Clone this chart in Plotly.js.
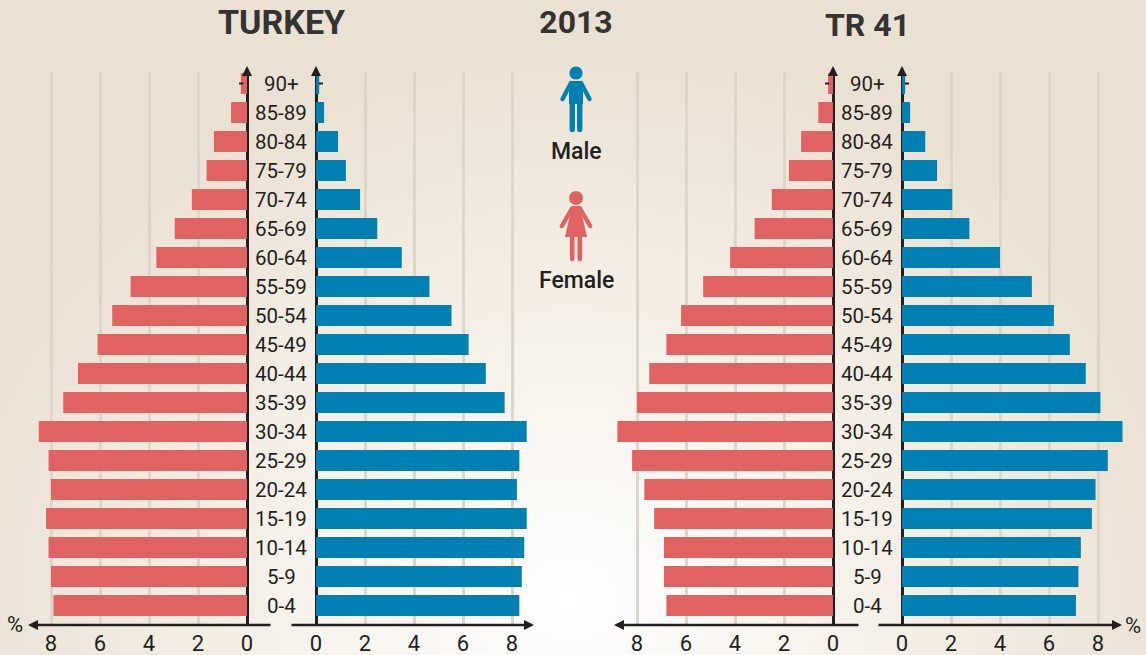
<!DOCTYPE html>
<html>
<head>
<meta charset="utf-8">
<script src="https://cdn.plot.ly/plotly-3.0.1.min.js"></script>
<style>
html,body{margin:0;padding:0;width:1146px;height:655px;overflow:hidden;
background:radial-gradient(ellipse 640px 560px at 570px 600px,#ffffff 0%,#f6f1e9 45%,#ebe1d2 100%);}
#chart{width:1146px;height:655px;}
</style>
</head>
<body>
<div id="chart"></div>
<script>
const ageGroups = ['0-4','5-9','10-14','15-19','20-24','25-29','30-34','35-39','40-44','45-49','50-54','55-59','60-64','65-69','70-74','75-79','80-84','85-89','90+'];
const turkeyFemale = [7.9,8.0,8.1,8.2,8.0,8.1,8.5,7.5,6.9,6.1,5.5,4.75,3.7,2.95,2.25,1.65,1.35,0.65,0.25];
const turkeyMale   = [8.3,8.4,8.5,8.6,8.2,8.3,8.6,7.7,6.93,6.23,5.53,4.63,3.5,2.5,1.8,1.22,0.9,0.33,0.13];
const tr41Female   = [6.8,6.9,6.9,7.3,7.7,8.2,8.8,8.0,7.5,6.8,6.2,5.3,4.2,3.2,2.5,1.8,1.3,0.6,0.2];
const tr41Male     = [7.1,7.2,7.3,7.75,7.9,8.4,9.0,8.1,7.5,6.85,6.2,5.3,4.0,2.75,2.05,1.43,0.95,0.33,0.13];
const tickValues = [0,2,4,6,8];
const oldestGroup = ['90+'];
const dashFemale = [0.24];
const dashMale = [0.2];

const W = 1146, H = 655, UNIT = 24.5, SPAN = 9.2;
const RED = '#E06261', BLUE = '#0080B3', INK = '#231F20', GRID = '#DDD5C7';
const FONT = 'Roboto, "Open Sans", sans-serif';
const px = x => x / W, py = y => 1 - y / H;

const panels = [
  {values: turkeyFemale, color: RED,  zero: 247, dir: -1, dash: dashFemale},
  {values: turkeyMale,   color: BLUE, zero: 316, dir:  1, dash: dashMale},
  {values: tr41Female,   color: RED,  zero: 833, dir: -1, dash: dashFemale},
  {values: tr41Male,     color: BLUE, zero: 902, dir:  1, dash: dashMale}
];

const traces = [];
const layout = {
  width: W, height: H,
  margin: {l:0, r:0, t:0, b:0},
  paper_bgcolor: 'rgba(0,0,0,0)',
  plot_bgcolor: 'rgba(0,0,0,0)',
  showlegend: false,
  bargap: 0.276,
  font: {family: FONT, color: INK},
  title: {text: '2013', x: px(576), xanchor: 'center', y: py(22), yanchor: 'middle', xref: 'paper', yref: 'paper',
          font: {family: FONT, size: 32, weight: 700, color: '#333333'}},
  yaxis: {type: 'category', categoryorder: 'array', categoryarray: ageGroups,
          range: [-0.672, 18.4], domain: [py(625), py(72)],
          showticklabels: false, showgrid: false, zeroline: false, ticks: '', showline: false, fixedrange: true},
  annotations: [],
  images: []
};

panels.forEach((p, i) => {
  const key = i === 0 ? 'xaxis' : 'xaxis' + (i + 1);
  const ref = i === 0 ? 'x' : 'x' + (i + 1);
  const a = p.dir < 0 ? p.zero - UNIT * SPAN : p.zero;
  const b = p.dir < 0 ? p.zero : p.zero + UNIT * SPAN;
  layout[key] = {
    domain: [px(a), px(b)],
    range: p.dir < 0 ? [SPAN, 0] : [0, SPAN],
    anchor: 'y', tickmode: 'array', tickvals: tickValues, ticktext: tickValues.map(String),
    showgrid: true, gridcolor: GRID, gridwidth: 3,
    zeroline: true, zerolinecolor: INK, zerolinewidth: 3,
    showline: false, ticks: '', ticklabelstandoff: 3,
    tickfont: {family: FONT, size: 22, color: INK, weight: 400}, fixedrange: true
  };
  traces.push({type: 'bar', orientation: 'h', x: p.values, y: ageGroups, xaxis: ref, yaxis: 'y',
    marker: {color: p.color, line: {width: 0}}, hoverinfo: 'x+y'});
  traces.push({type: 'scatter', mode: 'markers', x: p.dash, y: oldestGroup, xaxis: ref, yaxis: 'y',
    marker: {symbol: 'line-ew', size: 3, line: {width: 2, color: INK}}, hoverinfo: 'skip'});
});

function text(str, x, y, size, weight, color) {
  layout.annotations.push({text: str, xref: 'paper', yref: 'paper', x: px(x), y: py(y),
    xanchor: 'center', yanchor: 'middle', showarrow: false,
    font: {family: FONT, size, weight: weight || 400, color: color || INK}});
}
function arrow(x0, y0, x1, y1) {
  layout.annotations.push({text: '', xref: 'paper', yref: 'paper', x: px(x1), y: py(y1),
    axref: 'pixel', ayref: 'pixel', ax: x0 - x1, ay: y0 - y1, showarrow: true,
    arrowhead: 2, arrowsize: 0.8, arrowwidth: 2.5, arrowcolor: INK, standoff: 0, startstandoff: 0});
}

text('TURKEY', 281, 22, 34, 700, '#333333');
text('TR 41', 867, 25, 32, 700, '#333333');
text('Male', 576, 151, 23, 500);
text('Female', 576, 280, 23, 500);
text('%', 15, 624, 22);
text('%', 1133, 625, 22);

[281, 867].forEach(cx => ageGroups.forEach(g => {
  layout.annotations.push({text: g, xref: 'paper', yref: 'y', x: px(cx), y: g,
    xanchor: 'center', yanchor: 'middle', showarrow: false,
    font: {family: FONT, size: 20.5, weight: 400, color: INK}});
}));

[[272,28],[290,534],[860,614],[877,1122]].forEach(([a,b]) => arrow(a, 625, b, 625));
[247,316,833,902].forEach(x => arrow(x, 76, x, 66));

const maleSvg = `<svg xmlns="http://www.w3.org/2000/svg" width="36" height="68" viewBox="0 0 36 68">
<g fill="${BLUE}" stroke="${BLUE}" stroke-linecap="round"><circle cx="18" cy="7" r="6.6" stroke="none"/>
<path d="M13 17L4.5 33M23 17L31.5 33" stroke-width="4.4" fill="none"/>
<path d="M13 15H23Q25 15 25 18V38H11V18Q11 15 13 15Z" stroke="none"/>
<path d="M14.3 36V63.5M21.7 36V63.5" stroke-width="5.4" fill="none"/></g></svg>`;
const femaleSvg = `<svg xmlns="http://www.w3.org/2000/svg" width="36" height="72" viewBox="0 0 36 72">
<g fill="${RED}" stroke="${RED}" stroke-linecap="round"><circle cx="18" cy="8" r="7" stroke="none"/>
<path d="M14 18.5L3.8 36M22 18.5L32.2 36" stroke-width="4.4" fill="none"/>
<path d="M14 16H22L29 47H7Z" stroke="none"/>
<path d="M14.2 46V69M21.8 46V69" stroke-width="4.6" fill="none"/></g></svg>`;
const icon = (svg, x, y, w, h) => ({source: 'data:image/svg+xml;charset=utf-8,' + encodeURIComponent(svg),
  xref: 'paper', yref: 'paper', x: px(x), y: py(y), sizex: w / W, sizey: h / H,
  xanchor: 'left', yanchor: 'top', sizing: 'stretch', layer: 'above'});
layout.images.push(icon(maleSvg, 558, 66, 36, 68), icon(femaleSvg, 558, 190, 36, 72));

Plotly.newPlot('chart', traces, layout, {displayModeBar: false, staticPlot: true});
</script>
</body>
</html>
